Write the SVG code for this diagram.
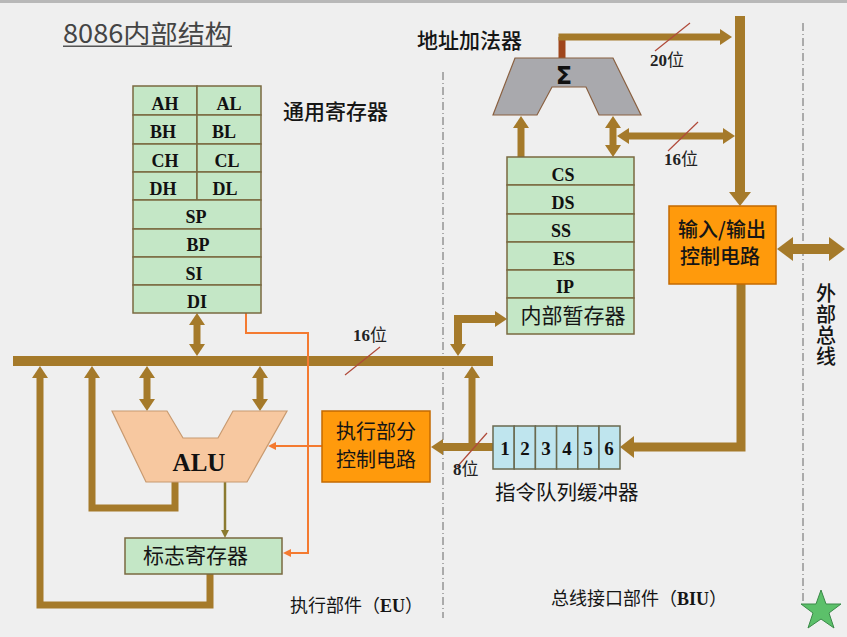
<svg xmlns="http://www.w3.org/2000/svg" width="847" height="637" viewBox="0 0 847 637">
<style>
.bg{fill:#efefef}
.reg{fill:#c4e7c6;stroke:#7a6a40;stroke-width:1.5}
.q{fill:#bfe5ee;stroke:#6a6a50;stroke-width:1.5}
.org{fill:#ff9a0c;stroke:#c46a00;stroke-width:1.5}
.bus{fill:none;stroke:#a57a2a;stroke-linejoin:miter}
.lat{font-family:"Liberation Serif",serif;font-weight:bold;fill:#111;text-anchor:middle}
.cjk{font-family:"Noto Sans CJK SC",sans-serif;fill:#151515}
.mid{text-anchor:middle}
.dd{stroke:#666;stroke-width:1;stroke-dasharray:8 3 1 3;fill:none}
.sl{stroke:#b04a3a;stroke-width:1.2}
</style>
<defs>
<marker id="ah" viewBox="0 0 12 16" markerWidth="12" markerHeight="16" refX="0" refY="8" orient="auto-start-reverse" markerUnits="userSpaceOnUse"><path d="M0,0 L12,8 L0,16z" fill="#a57a2a"/></marker>
<marker id="ahB" viewBox="0 0 14 22" markerWidth="14" markerHeight="22" refX="0" refY="11" orient="auto-start-reverse" markerUnits="userSpaceOnUse"><path d="M0,0 L14,11 L0,22z" fill="#a57a2a"/></marker>
<marker id="ahL" viewBox="0 0 16 24" markerWidth="16" markerHeight="24" refX="0" refY="12" orient="auto-start-reverse" markerUnits="userSpaceOnUse"><path d="M0,0 L16,12 L0,24z" fill="#a57a2a"/></marker>
<marker id="ao" viewBox="0 0 8 8" markerWidth="8" markerHeight="8" refX="0" refY="4" orient="auto" markerUnits="userSpaceOnUse"><path d="M0,0 L8,4 L0,8z" fill="#f47a30"/></marker>
<marker id="aol" viewBox="0 0 8 8" markerWidth="8" markerHeight="8" refX="0" refY="4" orient="auto" markerUnits="userSpaceOnUse"><path d="M0,0 L8,4 L0,8z" fill="#8b7a30"/></marker>
</defs>
<rect class="bg" x="0" y="0" width="847" height="637"/>
<rect x="0" y="0" width="847" height="3" fill="#b8b8b8"/>

<!-- title -->
<g id="title">
<text x="63" y="43" font-family="Noto Sans CJK SC, sans-serif" font-size="25" fill="#444" textLength="169" lengthAdjust="spacingAndGlyphs">8086内部结构</text>
<rect x="63" y="45.5" width="169" height="1.5" fill="#555"/>
</g>

<!-- section dividers -->
<g id="dividers">
<line class="dd" x1="443" y1="72" x2="443" y2="618"/>
<line class="dd" x1="803" y1="23" x2="803" y2="605"/>
</g>

<!-- connectors -->
<g id="connectors">
<rect x="13" y="356" width="480" height="10" fill="#a57a2a"/>
<path class="bus" stroke-width="7" d="M197,325 V344" marker-start="url(#ah)" marker-end="url(#ah)"/>
<path class="bus" stroke-width="7" d="M147,378 V399" marker-start="url(#ah)" marker-end="url(#ah)"/>
<path class="bus" stroke-width="7" d="M260,378 V399" marker-start="url(#ah)" marker-end="url(#ah)"/>
<path class="bus" stroke-width="7" d="M175,482 V508 H92 V378" marker-end="url(#ah)"/>
<path class="bus" stroke-width="7" d="M210,574 V605 H40 V378" marker-end="url(#ah)"/>
<path class="bus" stroke-width="8" d="M458,344 V319 H495" marker-start="url(#ah)" marker-end="url(#ah)"/>
<path class="bus" stroke-width="7" d="M472,447 V378" marker-end="url(#ah)"/>
<path class="bus" stroke-width="8" d="M493,447 H443" marker-end="url(#ah)"/>
<path class="bus" stroke-width="9" d="M741,284 V447 H634" marker-end="url(#ahB)"/>
<path class="bus" stroke-width="10" d="M740,16 V192" marker-end="url(#ahB)"/>
<path fill="none" stroke="#a0461c" stroke-width="7" d="M562,58 V37"/>
<path class="bus" stroke-width="7" d="M558.5,37 H720" marker-end="url(#ah)"/>
<path class="bus" stroke-width="7" d="M629,136 H723" marker-start="url(#ah)" marker-end="url(#ah)"/>
<path class="bus" stroke-width="7" d="M613,128 V145" marker-start="url(#ah)" marker-end="url(#ah)"/>
<path class="bus" stroke-width="7" d="M521,157 V128" marker-end="url(#ah)"/>
<path class="bus" stroke-width="10" d="M793,249 H829" marker-start="url(#ahL)" marker-end="url(#ahL)"/>
<path fill="none" stroke="#f47a30" stroke-width="2" d="M246,313 V333 H308 V553 H291" marker-end="url(#ao)"/>
<path fill="none" stroke="#f47a30" stroke-width="2" d="M322,446 H276" marker-end="url(#ao)"/>
<path fill="none" stroke="#8b7a30" stroke-width="2.5" d="M225,482 V530" marker-end="url(#aol)"/>
<line class="sl" x1="655" y1="51" x2="690" y2="23"/>
<line class="sl" x1="668" y1="151" x2="698" y2="122"/>
<line class="sl" x1="457" y1="467" x2="487" y2="433"/>
<line class="sl" x1="345" y1="375" x2="380" y2="347"/>
</g>

<!-- bit-width labels -->
<g id="labels">
<text x="650" y="66" font-family="Liberation Serif, Noto Sans CJK SC, serif" font-weight="bold" font-size="17" fill="#222">20<tspan font-family="Noto Sans CJK SC, sans-serif" font-weight="normal">位</tspan></text>
<text x="664" y="165" font-family="Liberation Serif, Noto Sans CJK SC, serif" font-weight="bold" font-size="17" fill="#222">16<tspan font-family="Noto Sans CJK SC, sans-serif" font-weight="normal">位</tspan></text>
<text x="453" y="475" font-family="Liberation Serif, Noto Sans CJK SC, serif" font-weight="bold" font-size="17" fill="#222">8<tspan font-family="Noto Sans CJK SC, sans-serif" font-weight="normal">位</tspan></text>
<text x="353" y="341" font-family="Liberation Serif, Noto Sans CJK SC, serif" font-weight="bold" font-size="17" fill="#222">16<tspan font-family="Noto Sans CJK SC, sans-serif" font-weight="normal">位</tspan></text>
</g>

<!-- general registers -->
<g id="gen-regs">
<rect class="reg" x="133" y="86" width="64" height="29"/><rect class="reg" x="197" y="86" width="64" height="29"/>
<rect class="reg" x="133" y="115" width="64" height="29"/><rect class="reg" x="197" y="115" width="64" height="29"/>
<rect class="reg" x="133" y="144" width="64" height="28"/><rect class="reg" x="197" y="144" width="64" height="28"/>
<rect class="reg" x="133" y="172" width="64" height="28"/><rect class="reg" x="197" y="172" width="64" height="28"/>
<rect class="reg" x="133" y="200" width="128" height="29"/>
<rect class="reg" x="133" y="229" width="128" height="28"/>
<rect class="reg" x="133" y="257" width="128" height="28"/>
<rect class="reg" x="133" y="285" width="128" height="28"/>
<g class="lat" font-size="18">
<text x="165" y="110">AH</text><text x="229" y="110">AL</text>
<text x="163" y="138">BH</text><text x="224" y="138">BL</text>
<text x="165" y="167">CH</text><text x="227" y="167">CL</text>
<text x="163" y="195">DH</text><text x="225" y="195">DL</text>
<text x="196" y="223">SP</text>
<text x="198" y="251">BP</text>
<text x="194" y="280">SI</text>
<text x="197" y="308">DI</text>
</g>
</g>
<text id="gen-label" class="cjk" x="283" y="119" font-size="21" font-weight="500">通用寄存器</text>

<!-- address adder -->
<g id="adder">
<polygon points="515,58 613,58 641,115 599,115 586,87 552,87 537,115 493,115" fill="#a9a9ad" stroke="#8a6040" stroke-width="1.2"/>
<text x="564" y="84" font-family="DejaVu Sans, sans-serif" font-weight="bold" font-size="24" fill="#111" text-anchor="middle">Σ</text>
</g>
<text id="adder-label" class="cjk" x="417" y="48" font-size="21" font-weight="500">地址加法器</text>

<!-- segment registers -->
<g id="seg-regs">
<rect class="reg" x="507" y="157" width="127" height="28"/>
<rect class="reg" x="507" y="185" width="127" height="29"/>
<rect class="reg" x="507" y="214" width="127" height="28"/>
<rect class="reg" x="507" y="242" width="127" height="28"/>
<rect class="reg" x="507" y="270" width="127" height="28"/>
<rect class="reg" x="507" y="298" width="127" height="36"/>
<g class="lat" font-size="18">
<text x="563" y="181">CS</text>
<text x="563" y="209">DS</text>
<text x="561" y="237">SS</text>
<text x="564" y="265">ES</text>
<text x="565" y="293">IP</text>
</g>
<text class="cjk mid" x="573" y="323" font-size="21">内部暂存器</text>
</g>

<!-- IO control -->
<g id="io-ctrl">
<rect class="org" x="669" y="206" width="107" height="78"/>
<text class="cjk mid" x="722" y="237" font-size="20" font-weight="500">输入/输出</text>
<text class="cjk mid" x="720" y="264" font-size="20" font-weight="500">控制电路</text>
</g>
<text id="ext-bus" class="cjk" x="826" y="283" font-size="20" font-weight="500" writing-mode="vertical-rl" letter-spacing="1">外部总线</text>

<!-- instruction queue -->
<g id="queue">
<rect class="q" x="493" y="426" width="21.2" height="43"/>
<rect class="q" x="514.2" y="426" width="21.2" height="43"/>
<rect class="q" x="535.4" y="426" width="21.2" height="43"/>
<rect class="q" x="556.6" y="426" width="21.2" height="43"/>
<rect class="q" x="577.8" y="426" width="21.2" height="43"/>
<rect class="q" x="599" y="426" width="21" height="43"/>
<g class="lat" font-size="19">
<text x="505" y="455">1</text><text x="525" y="455">2</text><text x="546" y="455">3</text>
<text x="567" y="455">4</text><text x="588" y="455">5</text><text x="609" y="455">6</text>
</g>
</g>
<text id="queue-label" class="cjk" x="495" y="500" font-size="20.5">指令队列缓冲器</text>

<!-- EU control -->
<g id="eu-ctrl">
<rect class="org" x="322" y="411" width="108" height="71"/>
<text class="cjk mid" x="376" y="439" font-size="20">执行部分</text>
<text class="cjk mid" x="376" y="467" font-size="20">控制电路</text>
</g>

<!-- ALU -->
<g id="alu">
<polygon points="112,411 167,411 183,438 218,438 233,411 287,411 247,482 146,482" fill="#f7c8a0" stroke="#c89a70" stroke-width="1.2"/>
<text class="lat" x="199" y="471" font-size="25">ALU</text>
</g>

<!-- flags -->
<g id="flags">
<rect class="reg" x="125" y="538" width="157" height="36"/>
<text class="cjk" x="143" y="563" font-size="21">标志寄存器</text>
</g>

<!-- section captions -->
<text id="eu-caption" class="cjk" x="290" y="612" font-size="18">执行部件（<tspan font-family="Liberation Serif, serif" font-weight="bold">EU</tspan>）</text>
<text id="biu-caption" class="cjk" x="551" y="605" font-size="18">总线接口部件（<tspan font-family="Liberation Serif, serif" font-weight="bold">BIU</tspan>）</text>

<!-- star -->
<polygon points="821,590 826,604 841,604 829,613 834,628 821,619 808,628 813,613 801,604 816,604" fill="#5cc06a" stroke="#3a8a48" stroke-width="1"/>
</svg>
